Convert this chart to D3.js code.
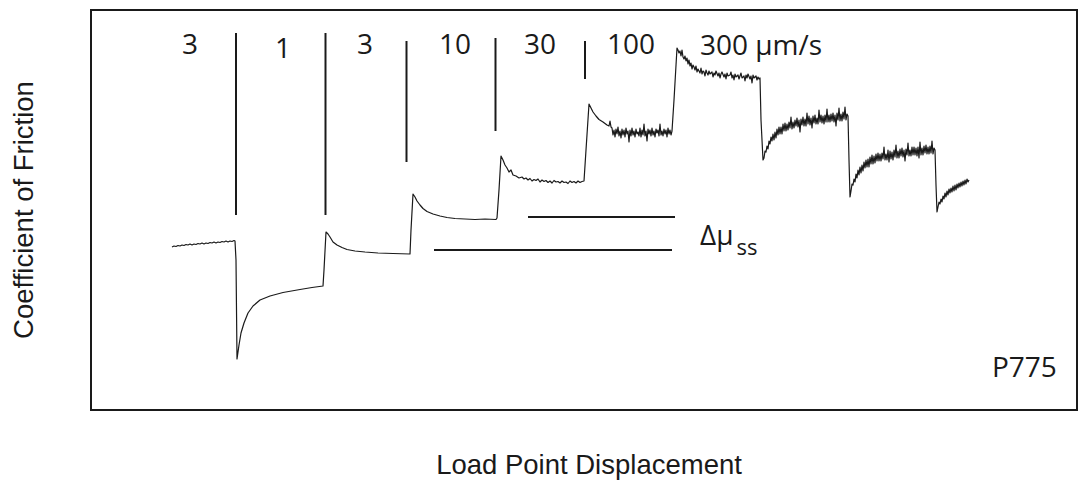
<!DOCTYPE html>
<html>
<head>
<meta charset="utf-8">
<script src="https://cdn.jsdelivr.net/npm/d3@7"></script>
<style>
  body { margin: 0; background: #fff; }
  svg { display: block; }
</style>
</head>
<body>
<svg id="chart" width="1088" height="487"></svg>
<script>
// Load point displacement (µm) and coefficient of friction, one array per velocity window.
const win3a = [[81,0.6506],[83,0.6508],[85,0.6507],[87,0.6509],[89,0.6508],[91,0.6510],[93,0.6509],[95,0.6511],[97,0.6510],[99,0.6512],[101,0.6510],[103,0.6512],[105,0.6511],[107,0.6513],[109,0.6512],[111,0.6514],[113,0.6512],[115,0.6514],[117,0.6513],[119,0.6515],[121,0.6514],[123,0.6516],[125,0.6514],[127,0.6516],[129,0.6515],[131,0.6517],[133,0.6516],[135,0.6518],[137,0.6516],[139,0.6518],[141,0.6517],[143,0.6519],[144,0.6518]];
const win1 = [[145,0.6480],[146,0.6282],[148,0.6310],[150,0.6334],[153,0.6354],[157,0.6374],[162,0.6388],[169,0.6400],[179,0.6408],[192,0.6415],[209,0.6421],[221,0.6425],[232,0.6428]];
const win3b = [[233,0.6460],[235,0.6536],[237,0.6532],[239,0.6526],[242,0.6516],[246,0.6510],[251,0.6505],[256,0.6501],[264,0.6498],[274,0.6496],[287,0.6494],[302,0.6493],[319,0.6492]];
const win10 = [[320,0.6540],[322,0.6612],[324,0.6606],[326,0.6598],[329,0.6590],[332,0.6583],[336,0.6577],[342,0.6572],[349,0.6568],[356,0.6565],[364,0.6563],[374,0.6562],[384,0.6561],[394,0.6562],[405,0.6561],[406,0.6564]];
const win30 = [[408,0.6620],[410,0.6688],[412,0.6680],[414,0.6670],[416,0.6664],[418,0.6656],[420,0.6660],[422,0.6650],[425,0.6648],[428,0.6644],
  [431,0.6646],[433,0.6642],[435,0.6644],[437,0.6640],[439,0.6643],[441,0.6638],[443,0.6641],[445,0.6639],[447,0.6642],[449,0.6636],
  [451,0.6640],[453,0.6637],[455,0.6639],[457,0.6635],[459,0.6638],[461,0.6634],[463,0.6639],[465,0.6636],[467,0.6637],[469,0.6634],
  [471,0.6638],[473,0.6635],[475,0.6636],[477,0.6633],[479,0.6638],[481,0.6635],[483,0.6637],[485,0.6634],[487,0.6638],[489,0.6635],
  [491,0.6637],[493,0.6638]];
const win100 = [[495,0.6700],[498,0.6792],[500,0.6784],[502,0.6776],[505,0.6768],[508,0.6761],[512,0.6756],[516,0.6750],[518,0.6748],[519,0.6758],[520,0.6746],
  [521,0.6744],[522,0.6730],[523,0.6740],[524,0.6726],[525,0.6742],[526,0.6732],[527,0.6746],[528,0.6728],[529,0.6738],[530,0.6724],
  [531,0.6742],[532,0.6730],[533,0.6740],[534,0.6726],[535,0.6744],[536,0.6732],[537,0.6738],[538,0.6716],[539,0.6740],[540,0.6728],
  [541,0.6744],[542,0.6730],[543,0.6738],[544,0.6726],[545,0.6742],[546,0.6732],[547,0.6736],[548,0.6728],[549,0.6744],[550,0.6726],
  [551,0.6740],[552,0.6730],[553,0.6752],[554,0.6728],[555,0.6738],[556,0.6718],[557,0.6742],[558,0.6732],[559,0.6740],[560,0.6728],
  [561,0.6744],[562,0.6730],[563,0.6738],[564,0.6726],[565,0.6742],[566,0.6734],[567,0.6740],[568,0.6728],[569,0.6752],[570,0.6730],
  [571,0.6738],[572,0.6728],[573,0.6742],[574,0.6732],[575,0.6740],[576,0.6726],[577,0.6744],[578,0.6732],[579,0.6740],[580,0.6730],[581,0.6738]];
const win300 = [[583,0.6800],[586,0.6904],[587,0.6900],[588,0.6894],[589,0.6898],[590,0.6888],[591,0.6900],[592,0.6886],[593,0.6882],[594,0.6888],
  [595,0.6878],[596,0.6884],[597,0.6872],[598,0.6880],[599,0.6868],[600,0.6874],[601,0.6862],[602,0.6870],[603,0.6866],[604,0.6860],
  [605,0.6868],[606,0.6856],[607,0.6862],[608,0.6858],[609,0.6854],[610,0.6864],[611,0.6852],[612,0.6858],[613,0.6856],[614,0.6848],
  [615,0.6860],[616,0.6854],[617,0.6850],[618,0.6858],[619,0.6852],[621,0.6856],[622,0.6846],[623,0.6854],[624,0.6850],[625,0.6858],
  [627,0.6848],[628,0.6854],[629,0.6844],[630,0.6852],[631,0.6856],[633,0.6846],[634,0.6852],[635,0.6842],[636,0.6854],[637,0.6848],
  [639,0.6850],[640,0.6856],[641,0.6844],[642,0.6850],[643,0.6840],[644,0.6852],[645,0.6846],[647,0.6850],[648,0.6842],[649,0.6848],
  [650,0.6854],[651,0.6844],[653,0.6848],[654,0.6838],[655,0.6850],[656,0.6844],[657,0.6852],[659,0.6842],[660,0.6848],[661,0.6834],
  [662,0.6850],[663,0.6844],[665,0.6848],[666,0.6840],[667,0.6846],[668,0.6842],[669,0.6844]];
const tailA = [[670,0.6760],[672,0.6680],[673,0.6684],[674,0.6698],[675,0.6696],[676,0.6708],[677,0.6702],[678,0.6718],[679,0.6712],[680,0.6726],
  [681,0.6718],[682,0.6732],[683,0.6720],[684,0.6736],[685,0.6724],[686,0.6742],[687,0.6730],[688,0.6746],[689,0.6732],[690,0.6746],
  [691,0.6732],[692,0.6752],[693,0.6738],[694,0.6754],[695,0.6738],[696,0.6752],[697,0.6740],[698,0.6756],[699,0.6744],[700,0.6766],
  [701,0.6742],[702,0.6756],[703,0.6744],[704,0.6760],[705,0.6748],[706,0.6764],[707,0.6746],[708,0.6760],[709,0.6736],[710,0.6762],
  [711,0.6750],[712,0.6766],[713,0.6748],[714,0.6762],[715,0.6748],[716,0.6774],[717,0.6752],[718,0.6768],[719,0.6750],[720,0.6764],
  [721,0.6744],[722,0.6768],[723,0.6754],[724,0.6770],[725,0.6752],[726,0.6764],[727,0.6752],[728,0.6780],[729,0.6756],[730,0.6770],
  [731,0.6754],[732,0.6768],[733,0.6752],[734,0.6770],[735,0.6756],[736,0.6782],[737,0.6756],[738,0.6770],[739,0.6756],[740,0.6772],
  [741,0.6758],[742,0.6774],[743,0.6756],[744,0.6770],[745,0.6748],[746,0.6774],[747,0.6760],[748,0.6784],[749,0.6758],[750,0.6772],
  [751,0.6758],[752,0.6776],[753,0.6762],[754,0.6786],[755,0.6760],[756,0.6772],[757,0.6768]];
const tailB = [[758,0.6680],[759,0.6606],[760,0.6618],[761,0.6632],[762,0.6630],[763,0.6642],[764,0.6636],[765,0.6652],[766,0.6644],[767,0.6660],
  [768,0.6650],[769,0.6666],[770,0.6654],[771,0.6670],[772,0.6658],[773,0.6676],[774,0.6664],[775,0.6680],[776,0.6666],[777,0.6682],
  [778,0.6666],[779,0.6686],[780,0.6672],[781,0.6690],[782,0.6672],[783,0.6688],[784,0.6674],[785,0.6692],[786,0.6678],[787,0.6694],
  [788,0.6678],[789,0.6692],[790,0.6678],[791,0.6694],[792,0.6682],[793,0.6706],[794,0.6680],[795,0.6692],[796,0.6680],[797,0.6700],
  [798,0.6676],[799,0.6698],[800,0.6682],[801,0.6696],[802,0.6680],[803,0.6700],[804,0.6686],[805,0.6710],[806,0.6684],[807,0.6698],
  [808,0.6684],[809,0.6702],[810,0.6688],[811,0.6704],[812,0.6686],[813,0.6700],[814,0.6678],[815,0.6702],[816,0.6690],[817,0.6714],
  [818,0.6688],[819,0.6700],[820,0.6688],[821,0.6706],[822,0.6690],[823,0.6706],[824,0.6690],[825,0.6704],[826,0.6688],[827,0.6706],
  [828,0.6684],[829,0.6716],[830,0.6690],[831,0.6704],[832,0.6690],[833,0.6708],[834,0.6694],[835,0.6710],[836,0.6692],[837,0.6706],
  [838,0.6692],[839,0.6708],[840,0.6694],[841,0.6718],[842,0.6692],[843,0.6704],[844,0.6700]];
const tailC = [[845,0.6630],[846,0.6576],[847,0.6586],[848,0.6596],[849,0.6592],[850,0.6602],[851,0.6596],[852,0.6608],[853,0.6602],[854,0.6614],
  [855,0.6606],[856,0.6618],[857,0.6610],[858,0.6622],[859,0.6614],[860,0.6624],[861,0.6616],[862,0.6628],[863,0.6618],[864,0.6630],
  [865,0.6620],[866,0.6632],[867,0.6624],[868,0.6634],[869,0.6626],[870,0.6636],[871,0.6628],[872,0.6638],[873,0.6630],[874,0.6640],
  [875,0.6632],[876,0.6642],[877,0.6636],[878,0.6640]];

// Velocity step markers: displacement of each step, and top / bottom friction level of the tick.
const stepDisp = [145, 234.5, 315.5, 404.5, 494];
const stepTop = [0.6934, 0.6934, 0.6918, 0.6924, 0.6918];
const stepBottom = [0.6570, 0.6570, 0.6676, 0.6738, 0.6842];

// Load point velocities (µm/s) written above each window.
const velocityLabels = ["3", "1", "3", "10", "30", "100", "300 \u00b5m/s"];

// Steady-state friction levels compared by the Δμss bars, with their displacement extents.
const ssLevels = [0.6566, 0.6500];
const ssStart = [437, 343];
const ssEnd = [584, 581];

const sampleName = "P775";

// ---------------------------------------------------------------------------
const svg = d3.select("#chart");
const ink = "#1a1a1a";

const x = d3.scaleLinear().domain([0, 986]).range([91, 1077]);
const y = d3.scaleLinear().domain([0.618, 0.698]).range([410, 10]);

// plot frame
svg.append("rect")
  .attr("x", x(0)).attr("y", y(0.698))
  .attr("width", x(986) - x(0)).attr("height", y(0.618) - y(0.698))
  .attr("fill", "none").attr("stroke", ink).attr("stroke-width", 2);

// friction record
const trace = [].concat(win3a, win1, win3b, win10, win30, win100, win300, tailA, tailB, tailC);
const line = d3.line().x(d => x(d[0])).y(d => y(d[1]));
svg.append("path")
  .datum(trace)
  .attr("d", line)
  .attr("fill", "none")
  .attr("stroke", ink)
  .attr("stroke-width", 1.2)
  .attr("stroke-linejoin", "round");

// step markers
svg.append("g").selectAll("line")
  .data(stepDisp)
  .join("line")
  .attr("x1", d => x(d)).attr("x2", d => x(d))
  .attr("y1", (d, i) => y(stepTop[i])).attr("y2", (d, i) => y(stepBottom[i]))
  .attr("stroke", ink).attr("stroke-width", 2);

// steady-state bars
svg.append("g").selectAll("line")
  .data(ssLevels)
  .join("line")
  .attr("x1", (d, i) => x(ssStart[i])).attr("x2", (d, i) => x(ssEnd[i]))
  .attr("y1", d => y(d)).attr("y2", d => y(d))
  .attr("stroke", ink).attr("stroke-width", 2);

// velocity labels (displacement of the label centre, baseline offset)
const labelAt = [
  { d: 99, dy: 0, anchor: "middle" },
  { d: 192, dy: 4, anchor: "middle" },
  { d: 274, dy: 0, anchor: "middle" },
  { d: 364, dy: 0, anchor: "middle" },
  { d: 449, dy: 0, anchor: "middle" },
  { d: 540, dy: 0, anchor: "middle" },
  { d: 609, dy: 1, anchor: "start" }
];
svg.append("g").selectAll("text")
  .data(velocityLabels)
  .join("text")
  .attr("x", (d, i) => x(labelAt[i].d))
  .attr("y", (d, i) => 54 + labelAt[i].dy)
  .attr("text-anchor", (d, i) => labelAt[i].anchor)
  .attr("font-family", "'Open Sans', sans-serif")
  .attr("font-size", 28)
  .attr("fill", ink)
  .text(d => d);

// Δμss label
const dmu = svg.append("text")
  .attr("x", x(609)).attr("y", 245)
  .attr("font-family", "'Open Sans', sans-serif")
  .attr("fill", ink);
dmu.append("tspan").attr("font-size", 28).text("\u0394\u00b5");
dmu.append("tspan").attr("font-size", 22).attr("dx", 3).attr("dy", 10).text("ss");

// sample id
svg.append("text")
  .attr("x", 992).attr("y", 377)
  .attr("font-family", "'Open Sans', sans-serif")
  .attr("font-size", 28)
  .attr("fill", ink)
  .text(sampleName);

// axis titles
svg.append("text")
  .attr("x", 589).attr("y", 474)
  .attr("text-anchor", "middle")
  .attr("font-family", "'Liberation Sans', Arial, sans-serif")
  .attr("font-size", 27.5)
  .attr("fill", ink)
  .text("Load Point Displacement");

svg.append("text")
  .attr("transform", "translate(33,210) rotate(-90)")
  .attr("text-anchor", "middle")
  .attr("font-family", "'Liberation Sans', Arial, sans-serif")
  .attr("font-size", 27.5)
  .attr("fill", ink)
  .text("Coefficient of Friction");
</script>
</body>
</html>
